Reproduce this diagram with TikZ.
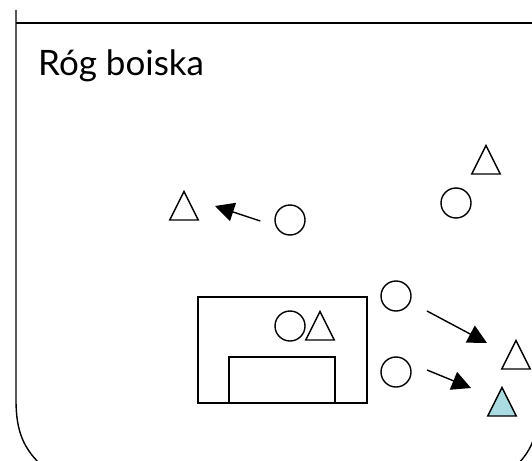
\documentclass[tikz,border=0pt]{standalone}
\usepackage{fontspec}
\setmainfont{Lato}
\usetikzlibrary{arrows.meta,shapes.geometric,positioning}
\definecolor{paleblue}{RGB}{170,220,226}
\tikzset{
  line/.style   = {draw, line width=1.4pt},
  player/.style = {line, circle, minimum size=30pt, inner sep=0pt},
  rival/.style  = {line, isosceles triangle, isosceles triangle apex angle=53,
                   isosceles triangle stretches, shape border rotate=90,
                   minimum width=28.5pt, minimum height=28.5pt, inner sep=0pt,
                   outer sep=0pt, anchor=lower side},
  run/.style    = {line, -{Triangle[length=19pt,width=19pt]}}
}

\begin{document}
\begin{tikzpicture}[x=1pt,y=-1pt]
\clip (0,0) rectangle (532,460);
\useasboundingbox (0,0) rectangle (532,460);

% boisko
\draw[line] (16,10) -- (16,400) .. controls (16,432) and (24,448) .. (40,464);
\draw[line] (16,23) -- (532,23);
\draw[line] (534,438) .. controls (530,450) and (524,458) .. (516,466);
\node[anchor=base west, inner sep=0pt, font=\fontsize{35}{40}\selectfont]
  (title) at (38,75) {Róg boiska};

% bramka
\draw[line] (198,297) rectangle (367,403);
\draw[line] (229,403) -- (229,357) -- (335,357) -- (335,403);

% zawodnicy
\node[player] (p1) at (456,203) {};
\node[player] (p2) at (290,220) {};
\node[player] (p3) at (290,326) {};
\node[player] (p4) at (396,296) {};
\node[player] (p5) at (396,372) {};

\node[rival] (r1) at (486,174) {};
\node[rival] (r2) at (184,220) {};
\node[rival] (r3) at (320,340) {};
\node[rival] (r4) at (516,369) {};
\node[rival, fill=paleblue] (r5) at (502,416) {};

% ruchy
\coordinate[left=14pt of p2.west, yshift=-1pt] (s2);
\coordinate (e2) at (215,206);
\coordinate (s4) at (427,311);
\coordinate (e4) at (487,343);
\coordinate (s5) at (427,370);
\coordinate (e5) at (471,388);

\draw[run] (s2) -- (e2);
\draw[run] (s4) -- (e4);
\draw[run] (s5) -- (e5);
\end{tikzpicture}
\end{document}
